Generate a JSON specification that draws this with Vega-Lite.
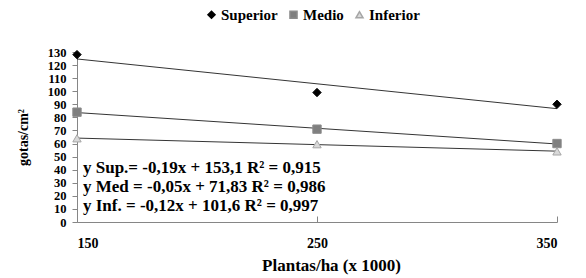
{
  "$schema": "https://vega.github.io/schema/vega-lite/v6.json",
  "width": 480,
  "height": 170,
  "autosize": {"type": "none"},
  "padding": {"left": 77, "top": 52, "right": 29, "bottom": 56},
  "background": "white",
  "config": {
    "view": {"stroke": null},
    "font": "Liberation Serif",
    "axis": {"grid": false, "domainColor": "#868686", "tickColor": "#868686", "labelFont": "Liberation Serif", "labelFontWeight": "bold", "labelFontSize": 14, "labelColor": "black", "labelOverlap": false, "titleColor": "black", "titleFont": "Liberation Serif", "titleFontWeight": "bold", "titleFontSize": 17}
  },
  "data": {
    "values": [
      {"plantas": 150, "gotas": 128, "serie": "Superior"},
      {"plantas": 250, "gotas": 99, "serie": "Superior"},
      {"plantas": 350, "gotas": 90, "serie": "Superior"},
      {"plantas": 150, "gotas": 84, "serie": "Medio"},
      {"plantas": 250, "gotas": 71, "serie": "Medio"},
      {"plantas": 350, "gotas": 60, "serie": "Medio"},
      {"plantas": 150, "gotas": 64, "serie": "Inferior"},
      {"plantas": 250, "gotas": 59.5, "serie": "Inferior"},
      {"plantas": 350, "gotas": 54, "serie": "Inferior"}
    ]
  },
  "encoding": {
    "x": {"field": "plantas", "type": "quantitative",
      "scale": {"domain": [150, 350], "nice": false, "zero": false},
      "axis": {"values": [150, 250, 350], "tickSize": -6, "labelPadding": 20, "labelOverlap": false, "title": "Plantas/ha (x 1000)", "titlePadding": 7, "titleX": 254}},
    "y": {"field": "gotas", "type": "quantitative",
      "scale": {"domain": [0, 130], "nice": false},
      "axis": {"values": [0, 10, 20, 30, 40, 50, 60, 70, 80, 90, 100, 110, 120, 130], "tickSize": 5, "labelPadding": 6, "labelFontSize": 12.5, "labelOverlap": false, "labelBaseline": "middle", "title": "gotas/cm²", "titleFontSize": 14, "titlePadding": 17}}
  },
  "layer": [
    {
      "transform": [{"regression": "gotas", "on": "plantas", "groupby": ["serie"]}],
      "mark": {"type": "line", "color": "black", "strokeWidth": 0.8},
      "encoding": {
        "detail": {"field": "serie"}
      }
    },
    {
      "mark": {"type": "point", "filled": true, "opacity": 1, "size": 70, "strokeWidth": 1},
      "encoding": {
        "shape": {"field": "serie", "type": "nominal", "sort": ["Superior", "Medio", "Inferior"],
          "scale": {"domain": ["Superior", "Medio", "Inferior"], "range": ["diamond", "square", "triangle-up"]},
          "legend": {"title": null, "orient": "none", "direction": "horizontal", "legendX": 127, "legendY": -45, "labelFont": "Liberation Serif", "labelFontWeight": "bold", "labelFontSize": 15, "labelColor": "black", "symbolSize": 50, "columnPadding": 8, "labelOffset": 2}},
        "fill": {"field": "serie", "type": "nominal",
          "scale": {"domain": ["Superior", "Medio", "Inferior"], "range": ["#000000", "#7f7f7f", "#d9d9d9"]}},
        "stroke": {"field": "serie", "type": "nominal",
          "scale": {"domain": ["Superior", "Medio", "Inferior"], "range": ["#000000", "#8c8c8c", "#a6a6a6"]}}
      }
    },
    {
      "data": {
        "values": [
          {"plantas": 152.5, "gotas": 41.3, "label": "y Sup.= -0,19x + 153,1 R² = 0,915"},
          {"plantas": 152.5, "gotas": 26.8, "label": "y Med = -0,05x + 71,83 R² = 0,986"},
          {"plantas": 152.5, "gotas": 12.2, "label": "y Inf. = -0,12x + 101,6 R² = 0,997"}
        ]
      },
      "mark": {"type": "text", "align": "left", "baseline": "middle", "font": "Liberation Serif", "fontWeight": "bold", "fontSize": 17, "color": "black"},
      "encoding": {
        "text": {"field": "label"}
      }
    }
  ]
}
